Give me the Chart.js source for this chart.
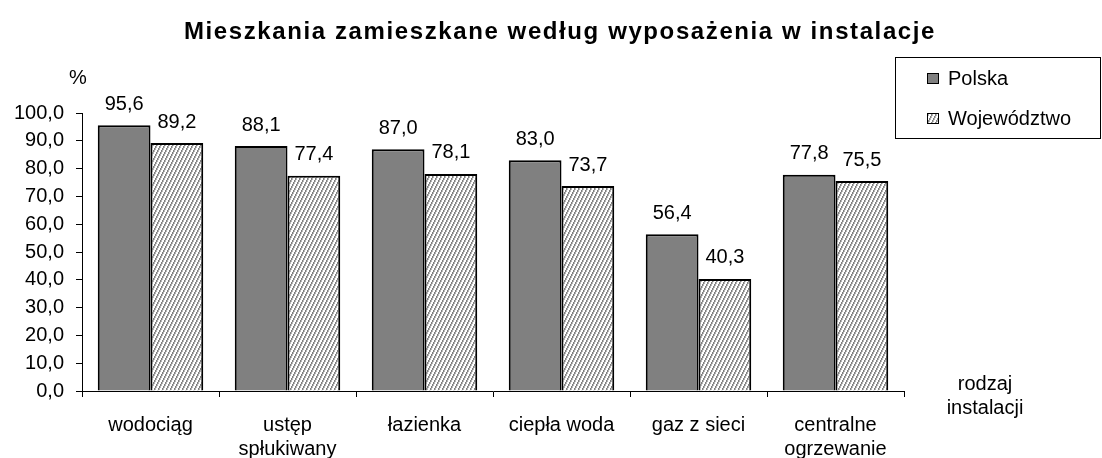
<!DOCTYPE html>
<html>
<head>
<meta charset="utf-8">
<script src="https://cdn.jsdelivr.net/npm/chart.js@4/dist/chart.umd.min.js"></script>
<style>
  html, body { margin: 0; padding: 0; background: #fff; }
  #wrap { width: 1102px; height: 458px; }
</style>
</head>
<body>
<div id="wrap"><canvas id="chart"></canvas></div>
<script>
const categories = ['wodociąg', ['ustęp', 'spłukiwany'], 'łazienka', 'ciepła woda', 'gaz z sieci', ['centralne', 'ogrzewanie']];
const polska = [95.6, 88.1, 87.0, 83.0, 56.4, 77.8];
const wojewodztwo = [89.2, 77.4, 78.1, 73.7, 40.3, 75.5];
const seriesNames = ['Polska', 'Województwo'];

const FONT = '"Liberation Sans", Arial, sans-serif';
const fmt = v => v.toFixed(1).replace('.', ',');

// steep "////" hatch, grey on white
function hatch() {
    const c = document.createElement('canvas');
    c.width = 4; c.height = 8;
    const g = c.getContext('2d');
    const img = g.createImageData(4, 8);
    for (let y = 0; y < 8; y++) {
        for (let x = 0; x < 4; x++) {
            const k = (x + Math.floor(y / 2)) % 4;
            const v = k === 0 ? 0x80 : (k === 1 ? 0xb4 : 0xff);
            const i = (y * 4 + x) * 4;
            img.data[i] = img.data[i + 1] = img.data[i + 2] = v;
            img.data[i + 3] = 255;
        }
    }
    g.putImageData(img, 0, 0);
    return g.createPattern(c, 'repeat');
}
const hatchFill = hatch();

const extras = {
    id: 'extras',
    afterDatasetsDraw(chart) {
        const ctx = chart.ctx;
        ctx.save();
        ctx.fillStyle = '#000';
        ctx.textAlign = 'center';
        ctx.textBaseline = 'middle';
        ctx.font = '20px ' + FONT;
        chart.data.datasets.forEach((ds, i) => {
            chart.getDatasetMeta(i).data.forEach((bar, j) => {
                ctx.fillText(fmt(ds.data[j]), bar.x, bar.y - 21);
            });
        });
        ctx.restore();
    },
    afterDraw(chart) {
        const ctx = chart.ctx;
        ctx.save();
        ctx.fillStyle = '#000';
        ctx.textBaseline = 'middle';
        ctx.textAlign = 'center';
        ctx.font = 'bold 24px ' + FONT;
        ctx.letterSpacing = '1.6px';
        ctx.fillText('Mieszkania zamieszkane według wyposażenia w instalacje', 560, 32);
        ctx.letterSpacing = '0px';
        ctx.font = '20px ' + FONT;
        ctx.fillText('%', 78, 78);
        ctx.fillText('rodzaj', 985, 384);
        ctx.fillText('instalacji', 985, 408);

        // legend box
        ctx.strokeStyle = '#000';
        ctx.lineWidth = 1;
        ctx.strokeRect(895.5, 57.5, 205, 81);
        const items = [['#808080', 78], [hatchFill, 118]];
        items.forEach(([fill, y], k) => {
            ctx.fillStyle = fill;
            ctx.fillRect(927, y - 5, 12, 11);
            ctx.strokeStyle = '#000';
            ctx.strokeRect(927.5, y - 4.5, 11, 10);
            ctx.fillStyle = '#000';
            ctx.textAlign = 'left';
            ctx.fillText(seriesNames[k], 948, y + 1);
        });
        ctx.restore();
    }
};

new Chart(document.getElementById('chart'), {
    type: 'bar',
    data: {
        labels: categories,
        datasets: [
            {
                label: seriesNames[0],
                data: polska,
                backgroundColor: '#808080',
                borderColor: '#000',
                borderWidth: 2,
                borderSkipped: 'bottom'
            },
            {
                label: seriesNames[1],
                data: wojewodztwo,
                backgroundColor: hatchFill,
                borderColor: '#000',
                borderWidth: 2,
                borderSkipped: 'bottom'
            }
        ]
    },
    options: {
        responsive: true,
        maintainAspectRatio: false,
        animation: false,
        devicePixelRatio: 1,
        layout: {padding: {left: 0, right: 198, top: 113, bottom: 0}},
        categoryPercentage: 0.77,
        barPercentage: 1.0,
        plugins: {
            legend: {display: false},
            title: {display: false},
            tooltip: {enabled: false}
        },
        scales: {
            x: {
                grid: {display: true, drawOnChartArea: false, color: '#000', tickLength: 6, offset: true},
                border: {color: '#000', width: 1},
                ticks: {color: '#000', font: {family: FONT, size: 20, lineHeight: 1.2}, padding: 16, maxRotation: 0, autoSkip: false},
                afterFit(scale) { scale.height = 67; }
            },
            y: {
                min: 0,
                max: 100,
                grid: {display: true, drawOnChartArea: false, color: '#000', tickLength: 6},
                border: {color: '#000', width: 1},
                ticks: {stepSize: 10, color: '#000', font: {family: FONT, size: 20}, padding: 12, callback: v => fmt(v)},
                afterFit(scale) { scale.width = 82; }
            }
        }
    },
    plugins: [extras]
});
</script>
</body>
</html>
